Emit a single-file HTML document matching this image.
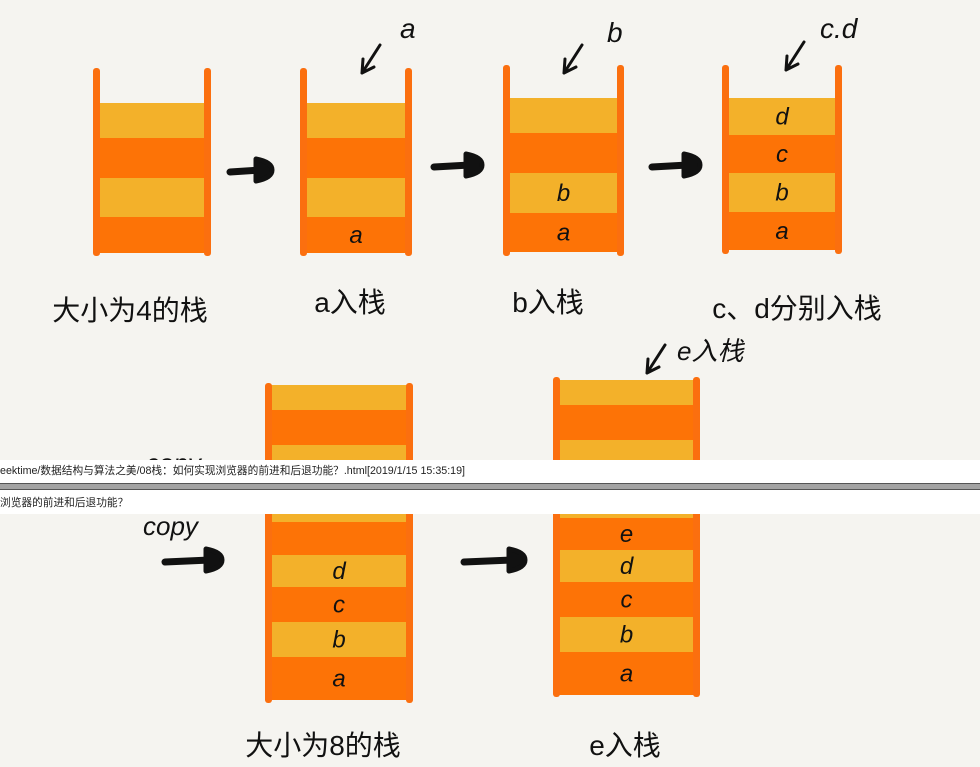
<!DOCTYPE html>
<html><head><meta charset="utf-8">
<style>
html,body{margin:0;padding:0;background:#f5f4f0;}
#wrap{position:relative;width:980px;height:767px;overflow:hidden;background:#f5f4f0;}
svg{position:absolute;left:0;top:0;}
.hand{font-family:"Liberation Sans","Noto Sans CJK SC",sans-serif;fill:#111;}
.bar1{position:absolute;left:0;top:460px;width:980px;height:23px;background:#fff;font:10.7px "Liberation Sans","Noto Sans CJK SC",sans-serif;color:#222;line-height:23px;white-space:nowrap;}
.gray{position:absolute;left:0;top:483px;width:980px;height:7px;background:#a3a3a3;border-top:1px solid #555;border-bottom:1px solid #555;box-sizing:border-box;}
.bar2{position:absolute;left:0;top:490px;width:980px;height:24px;background:#fff;font:10.7px "Liberation Sans","Noto Sans CJK SC",sans-serif;color:#222;line-height:26px;white-space:nowrap;}
</style></head>
<body>
<div id="wrap">
<svg id="svg" width="980" height="767" viewBox="0 0 980 767"></svg>
<div class="bar1">eektime/数据结构与算法之美/08栈：如何实现浏览器的前进和后退功能？.html[2019/1/15 15:35:19]</div>
<div class="gray"></div>
<div class="bar2">浏览器的前进和后退功能？</div>
</div>
<script>
const stackNames = ["size4","a-push","b-push","cd-push","size8","e-push"];
const stackLeft = [93,300,503,722,265,553];
const stackRight = [211,412,624,842,413,700];
const wallTop = [68,68,65,65,383,377];
const wallBottom = [256,256,256,254,703,697];
const bandTops = [
 [103,138,178,217],[103,138,178,217],[98,133,173,213],[98,135,173,212],
 [385,410,445,522,555,587,622,657],[380,405,440,518,550,582,617,652]
];
const bandBottoms = [
 [138,178,217,253],[138,178,217,253],[133,173,213,252],[135,173,212,250],
 [410,445,522,555,587,622,657,700],[405,440,518,550,582,617,652,695]
];
const bandColors = [
 ["y","o","y","o"],["y","o","y","o"],["y","o","y","o"],["y","o","y","o"],
 ["y","o","y","o","y","o","y","o"],["y","o","y","o","y","o","y","o"]
];
const bandLetters = [
 ["","","",""],["","","","a"],["","","b","a"],["d","c","b","a"],
 ["","","","","d","c","b","a"],["","","","e","d","c","b","a"]
];
const labels = ["大小为4的栈","a入栈","b入栈","c、d分别入栈","大小为8的栈","e入栈"];
const labelX = [130,350,548,797,323,625];
const labelY = [320,312,312,318,755,755];
const arrowX1 = [230,434,652,165,464];
const arrowX2 = [272,482,700,222,525];
const arrowY = [170,165,165,560,560];

const NS="http://www.w3.org/2000/svg";
const svg=document.getElementById('svg');
function mk(tag,attrs){const e=document.createElementNS(NS,tag);for(const k in attrs)e.setAttribute(k,attrs[k]);svg.appendChild(e);return e;}

for(let i=0;i<stackNames.length;i++){
  const L=stackLeft[i],R=stackRight[i];
  for(let j=0;j<bandTops[i].length;j++){
    const r=mk('rect',{x:L+4,y:bandTops[i][j],width:R-L-8,height:bandBottoms[i][j]-bandTops[i][j],rx:3,fill:bandColors[i][j]==="y"?"#f3b12a":"#fd7306"});
    
    
    if(bandLetters[i][j]){
      const t=mk('text',{x:(L+R)/2,y:(bandTops[i][j]+bandBottoms[i][j])/2+8,'text-anchor':'middle','font-size':24,'font-style':'italic',class:'hand'});
      t.textContent=bandLetters[i][j];
      
      
    }
  }
  const w1=mk('rect',{x:L,y:wallTop[i],width:7,height:wallBottom[i]-wallTop[i],rx:3,fill:"#fb6f0f"});
  
  
  const w2=mk('rect',{x:R-7,y:wallTop[i],width:7,height:wallBottom[i]-wallTop[i],rx:3,fill:"#fb6f0f"});
  
  
  const lb=mk('text',{x:labelX[i],y:labelY[i],'text-anchor':'middle','font-size':28,class:'hand'});
  lb.textContent=labels[i];
  
  
}
for(let i=0;i<arrowX1.length;i++){
  const g=mk('g',{});
  
  
  const p=document.createElementNS(NS,'line');
  p.setAttribute('x1',arrowX1[i]);p.setAttribute('y1',arrowY[i]+2);p.setAttribute('x2',arrowX2[i]-12);p.setAttribute('y2',arrowY[i]);
  p.setAttribute('stroke','#111');p.setAttribute('stroke-width',7);p.setAttribute('stroke-linecap','round');
  g.appendChild(p);
  const h=document.createElementNS(NS,'path');
  const x=arrowX2[i],y=arrowY[i];
  h.setAttribute('d',`M${x-16},${y-11} Q${x},${y-8} ${x},${y} Q${x},${y+8} ${x-16},${y+11} Z`);
  h.setAttribute('fill','#111');h.setAttribute('stroke','#111');h.setAttribute('stroke-width',5);h.setAttribute('stroke-linejoin','round');
  g.appendChild(h);
}
const ptrX=[380,582,804,665];
const ptrY=[45,45,42,345];
const ptrText=["a","b","c.d","e入栈"];
const ptrTX=[400,607,820,677];
const ptrTY=[38,42,38,360];
for(let i=0;i<ptrX.length;i++){
  const g=mk('g',{fill:'none',stroke:'#111','stroke-width':3,'stroke-linecap':'round'});
  
  
  const p=document.createElementNS(NS,'path');
  const x=ptrX[i],y=ptrY[i];
  p.setAttribute('d',`M${x},${y} L${x-18},${y+28} M${x-18},${y+28} L${x-17},${y+14} M${x-18},${y+28} L${x-6},${y+22}`);
  g.appendChild(p);
  const t=mk('text',{x:ptrTX[i],y:ptrTY[i],'font-size':i==3?26:28,'font-style':'italic',class:'hand'});
  t.textContent=ptrText[i];
  
  
}
const cp=mk('text',{x:143,y:535,'font-size':26,'font-style':'italic',class:'hand'});
cp.textContent="copy";


const cp2=mk('text',{x:146,y:472,'font-size':26,'font-style':'italic',class:'hand'});
cp2.textContent="copy";


</script>
</body></html>
